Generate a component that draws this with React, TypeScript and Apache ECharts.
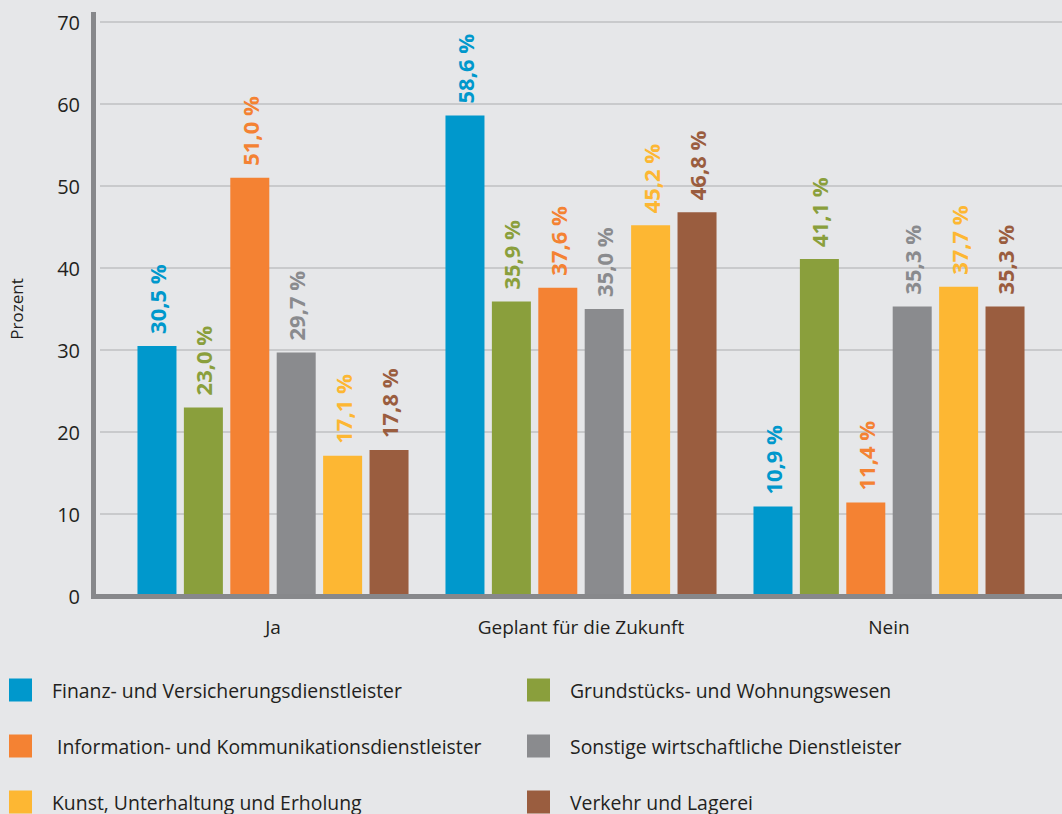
import React, { useEffect, useRef } from "react";
import * as echarts from "echarts";

const categories = ["Ja", "Geplant für die Zukunft", "Nein"];
const seriesNames = [
  "Finanz- und Versicherungsdienstleister",
  "Grundstücks- und Wohnungswesen",
  "Information- und Kommunikationsdienstleister",
  "Sonstige wirtschaftliche Dienstleister",
  "Kunst, Unterhaltung und Erholung",
  "Verkehr und Lagerei",
];
const seriesColors = ["#0098cc", "#8a9f3c", "#f48233", "#8a8b8e", "#fdb733", "#9a5d3f"];
const finanz = [30.5, 58.6, 10.9];
const grundstuecks = [23.0, 35.9, 41.1];
const information = [51.0, 37.6, 11.4];
const sonstige = [29.7, 35.0, 35.3];
const kunst = [17.1, 45.2, 37.7];
const verkehr = [17.8, 46.8, 35.3];
const seriesValues = [finanz, grundstuecks, information, sonstige, kunst, verkehr];
const yTicks = { min: 0, max: 70, interval: 10 };

const FONT = "'Open Sans', 'Noto Sans', sans-serif";
const BG = "#e6e7e9";
const AXIS = "#87888b";

export default function App() {
  const ref = useRef<HTMLDivElement>(null);
  useEffect(() => {
    if (!ref.current) return;
    const chart = echarts.init(ref.current, null, { renderer: "svg" });
    const series = seriesNames.map((name, i) => ({
      name,
      type: "bar",
      xAxisIndex: 1,
      yAxisIndex: 1,
      data: seriesValues[i],
      barWidth: 39,
      barGap: "19%",
      itemStyle: { color: seriesColors[i] },
      label: {
        show: true,
        position: "top",
        rotate: 90,
        align: "left",
        verticalAlign: "middle",
        distance: 12,
        color: seriesColors[i],
        fontFamily: FONT,
        fontWeight: "bold",
        fontSize: 22,
        formatter: (p: any) => p.value.toFixed(1).replace(".", ",") + " %",
      },
    }));
    const legends = seriesNames.map((name, i) => ({
      orient: "horizontal",
      left: i % 2 === 0 ? 9 : 527,
      top: 678.5 + Math.floor(i / 2) * 56,
      padding: 0,
      itemWidth: 23,
      itemHeight: 23,
      icon: "rect",
      selectedMode: false,
      data: [name],
      formatter: (n: string) => (i === 2 ? " " + n : n),
      textStyle: {
        fontFamily: FONT,
        fontSize: 19.4,
        color: "#231f20",
        padding: [0, 0, 0, 15],
      },
    }));
    chart.setOption({
      animation: false,
      backgroundColor: BG,
      grid: [
        { left: 93, right: 0, top: 22, height: 574 },
        { left: 119, width: 924, top: 22, height: 574 },
      ],
      xAxis: [
        { type: "category", gridIndex: 0, show: false, data: categories },
        {
          type: "category",
          gridIndex: 1,
          data: categories,
          axisLine: { show: false },
          axisTick: { show: false },
          axisLabel: {
            fontFamily: FONT,
            fontSize: 19,
            color: "#231f20",
            margin: 21,
          },
        },
      ],
      yAxis: [
        {
          type: "value",
          gridIndex: 0,
          min: yTicks.min,
          max: yTicks.max,
          interval: yTicks.interval,
          axisLine: { show: false },
          axisTick: { show: false },
          splitLine: { lineStyle: { color: "#c9cacc", width: 2 } },
          axisLabel: {
            fontFamily: FONT,
            fontSize: 20,
            color: "#231f20",
            margin: 20,
          },
          name: "Prozent",
          nameLocation: "middle",
          nameRotate: 90,
          nameGap: 75,
          nameTextStyle: { fontFamily: FONT, fontSize: 17, color: "#231f20" },
        },
        {
          type: "value",
          gridIndex: 1,
          min: yTicks.min,
          max: yTicks.max,
          interval: yTicks.interval,
          show: false,
        },
      ],
      legend: legends,
      graphic: [
        {
          type: "rect",
          z: 100,
          shape: { x: 91, y: 12, width: 5, height: 587 },
          style: { fill: AXIS },
        },
        {
          type: "rect",
          z: 100,
          shape: { x: 91, y: 594, width: 971, height: 5 },
          style: { fill: AXIS },
        },
      ],
      series,
    });
    return () => chart.dispose();
  }, []);
  return (
    <div
      ref={ref}
      style={{ position: "fixed", left: 0, top: 0, width: 1062, height: 814 }}
    />
  );
}
